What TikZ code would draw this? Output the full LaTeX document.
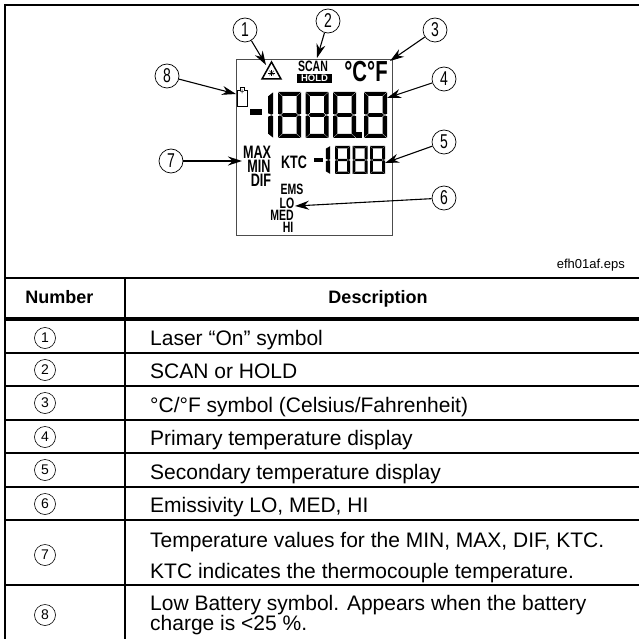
\documentclass[tikz,border=0pt]{standalone}
\usepackage{fontspec}
\setmainfont{Liberation Sans}
\newfontfamily\lcdfont[FakeStretch=0.7]{Liberation Sans}
\usepackage{tikz}
\usetikzlibrary{arrows.meta}
\tikzset{
    callout/.style={circle, inner sep=0mm, draw, line width=.7pt, fill=white, minimum size=24pt, font=\lcdfont\fontsize{20}{20}\selectfont},
    numcircle/.style={circle, inner sep=0mm, draw, line width=.6pt, minimum size=21pt, font=\fontsize{14}{14}\selectfont},
    pointer/.style={line width=1.1pt, -{Stealth[length=14pt,width=9pt]}},
    lcdtext/.style={inner sep=0mm, text=black, font=\lcdfont\bfseries\fontsize{18}{18}\selectfont},
    lcdsmall/.style={inner sep=0mm, text=black, font=\lcdfont\bfseries\fontsize{15}{15}\selectfont},
    celltext/.style={inner sep=0mm, anchor=base west, font=\fontsize{21}{24}\selectfont},
    headtext/.style={inner sep=0mm, anchor=base, font=\bfseries\fontsize{18}{18}\selectfont},
    rule/.style={line width=2pt}
}
% one digit, 22 by 46 units
\newcommand{\lcdeight}[4]{
    \begin{scope}[shift={(#1,#2)}, x=#3pt/22, y=-#4pt/46]
        \fill (0.3,0) -- (21.7,0) -- (17.6,4) -- (4.4,4) -- cycle;
        \fill (0.3,46) -- (21.7,46) -- (17.6,42) -- (4.4,42) -- cycle;
        \fill (0,0.4) -- (4.2,4.4) -- (4.2,20.8) -- (2.2,22.6) -- (0,21.9) -- cycle;
        \fill (22,0.4) -- (17.8,4.4) -- (17.8,20.8) -- (19.8,22.6) -- (22,21.9) -- cycle;
        \fill (0,45.6) -- (4.2,41.6) -- (4.2,25.2) -- (2.2,23.4) -- (0,24.1) -- cycle;
        \fill (22,45.6) -- (17.8,41.6) -- (17.8,25.2) -- (19.8,23.4) -- (22,24.1) -- cycle;
        \fill (2.8,23) -- (4.8,21.2) -- (17.2,21.2) -- (19.2,23) -- (17.2,24.8) -- (4.8,24.8) -- cycle;
    \end{scope}
}
\newcommand{\lcdone}[4]{
    \begin{scope}[shift={(#1,#2)}, x=#3pt/6, y=-#4pt/46]
        \fill (6,0.4) -- (1,4.4) -- (1,21.2) -- (4.4,22.7) -- (6,21.9) -- cycle;
        \fill (6,45.6) -- (1,41.6) -- (1,24.8) -- (4.4,23.3) -- (6,24.1) -- cycle;
    \end{scope}
}

\begin{document}
\begin{tikzpicture}[x=1pt, y=-1pt]
        \useasboundingbox (0,0) rectangle (639,639);
        % display
        \draw [line width=.8pt, black!70] (236,59) rectangle (392,235);
        \lcdone{267}{92}{6}{46}
        \foreach \xpos in {278,305.5,333,364} {
                \lcdeight{\xpos}{92}{23}{46}
        }
        \fill (250,109) rectangle (262,115);
        \fill (356,132) rectangle (361.5,138);
        \lcdone{325}{146}{5}{28}
        \foreach \xpos in {335,352.5,370} {
                \lcdeight{\xpos}{146}{15}{28}
        }
        \fill (314,158) rectangle (323,162.5);
        % laser triangle
        \draw [line width=1.5pt, line join=miter] (271.5,62) -- (281,79) -- (262,79) -- cycle;
        \fill (271.5,73) circle (1.2pt);
        \foreach \ang in {0,45,...,315} {
                \draw [line width=.35pt] (271.5,73) -- +(\ang:3.2pt);
        }
        % battery
        \draw [line width=.6pt] (237.5,90) -- (240,90) -- (240,87.5) -- (244.5,87.5) -- (244.5,90) -- (247,90) -- (247,106) -- (237.5,106) -- cycle;
        \node [inner sep=0mm, font=\fontsize{8}{8}\selectfont] (plus) at (242.2,92.5) {+};
        % display texts
        \node [lcdsmall] (scan) at (313,66) {SCAN};
        \fill (297,74) rectangle (332,83);
        \node [inner sep=0mm, text=white, font=\bfseries\fontsize{9.5}{9.5}\selectfont] (hold) at (314.5,78.5) {HOLD};
        \node [lcdtext, font=\lcdfont\bfseries\fontsize{29}{29}\selectfont] (degs) at (366,72) {°C°F};
        \node [lcdtext] (max) at (257,152) {MAX};
        \node [lcdtext] (min) at (259,166) {MIN};
        \node [lcdtext] (dif) at (261,180) {DIF};
        \node [lcdtext] (ktc) at (294,162) {KTC};
        \node [lcdsmall] (ems) at (292,189) {EMS};
        \node [lcdsmall] (lo) at (287,203) {LO};
        \node [lcdsmall] (med) at (282,215) {MED};
        \node [lcdsmall] (hi) at (288,227) {HI};
        % callouts
        \node [callout] (c1) at (245,30) {1};
        \node [callout] (c2) at (328,21) {2};
        \node [callout] (c3) at (435,30) {3};
        \node [callout] (c4) at (444,79) {4};
        \node [callout] (c5) at (444,142) {5};
        \node [callout] (c6) at (444,198) {6};
        \node [callout] (c7) at (171,161) {7};
        \node [callout] (c8) at (167,76) {8};
        \coordinate (t1) at (266,65);
        \coordinate (t2) at (317,58);
        \coordinate (t3) at (390,61);
        \coordinate (t4) at (387,98);
        \coordinate (t5) at (385,163);
        \coordinate (t6) at (295,206);
        \coordinate (t7) at (242,161);
        \coordinate (t8) at (236,94);
        \foreach \i in {1,...,8} {
                \draw [pointer] (c\i) -- (t\i);
        }
        \node [inner sep=0mm, anchor=base east, font=\fontsize{13}{13}\selectfont] (eps) at (625,268) {efh01af.eps};
        % table
        \draw [line width=2.4pt] (4,5) -- (639,5);
        \draw [rule] (5,4) -- (5,639);
        \draw [rule] (125,278) -- (125,639);
        \draw [rule] (4,278) -- (639,278);
        \draw [line width=4pt] (4,319) -- (639,319);
        \foreach \ypos in {352.5,386,420,453,487,520,585} {
                \draw [rule] (4,\ypos) -- (639,\ypos);
        }
        \node [headtext] (hnum) at (59.5,303) {Number};
        \node [headtext] (hdesc) at (378,303) {Description};
        \node [numcircle] (n1) at (45,338) {1};
        \node [numcircle] (n2) at (45,370) {2};
        \node [numcircle] (n3) at (45,403) {3};
        \node [numcircle] (n4) at (45,437) {4};
        \node [numcircle] (n5) at (45,470) {5};
        \node [numcircle] (n6) at (45,504) {6};
        \node [numcircle] (n7) at (45,555) {7};
        \node [numcircle] (n8) at (45,615) {8};
        \node [celltext] (d1) at (150,345.5) {Laser “On” symbol};
        \node [celltext] (d2) at (150,378) {SCAN or HOLD};
        \node [celltext] (d3) at (150,412) {°C/°F symbol (Celsius/Fahrenheit)};
        \node [celltext] (d4) at (150,445.5) {Primary temperature display};
        \node [celltext] (d5) at (150,479) {Secondary temperature display};
        \node [celltext] (d6) at (150,512.5) {Emissivity LO, MED, HI};
        \node [celltext] (d7) at (150,547) {Temperature values for the MIN, MAX, DIF, KTC.};
        \node [celltext] (d7b) at (150,578) {KTC indicates the thermocouple temperature.};
        \node [celltext] (d8) at (150,610) {Low Battery symbol. Appears when the battery};
        \node [celltext] (d8b) at (150,630) {charge is <25 \%.};
\end{tikzpicture}
\end{document}
